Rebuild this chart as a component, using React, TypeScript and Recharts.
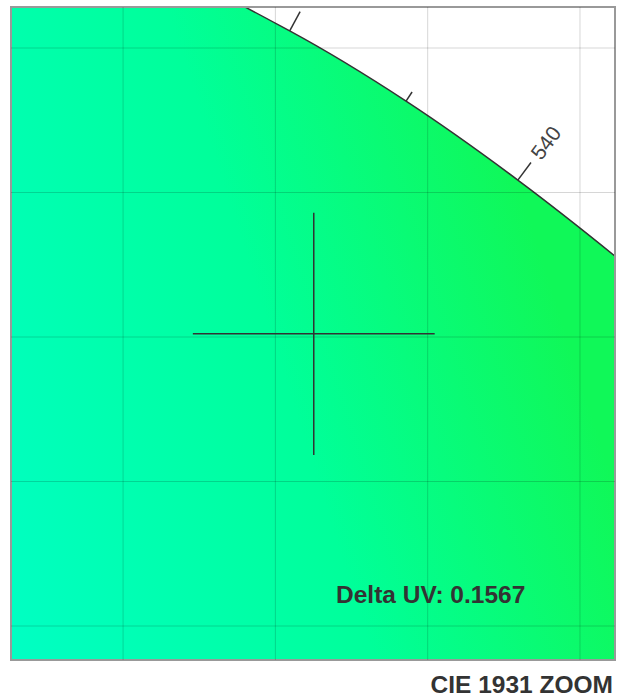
import React from 'react';
import { ComposedChart, Area, XAxis, YAxis, ReferenceLine, ReferenceArea, Scatter } from 'recharts';

// CIE 1931 2° spectral locus (x, y chromaticity) near the zoomed region
const locusNm = [515, 520, 525, 530, 535, 540, 545, 550];
const locusX = [0.0389, 0.0743, 0.1142, 0.1547, 0.1929, 0.2296, 0.2658, 0.3016];
const locusY = [0.812, 0.8338, 0.8262, 0.8059, 0.7816, 0.7543, 0.7243, 0.6923];
const tickNm = [525, 530, 535, 540, 545];
const gridX = [0.1, 0.15, 0.2, 0.25];
const gridY = [0.6, 0.65, 0.7, 0.75, 0.8];
const testPoint = { x: 0.1626, y: 0.7011 };
const crossHalf = { x: 0.0397, y: 0.0419 };
const deltaUV = 0.1567;
const title = 'CIE 1931 ZOOM';

const X0 = 0.0632, X1 = 0.2615, Y0 = 0.58824, Y1 = 0.81419;
const W = 621, H = 698;
const M = { top: 7, left: 11, right: 6, bottom: 38 };
const KX = (W - M.left - M.right) / (X1 - X0);
const KY = (H - M.top - M.bottom) / (Y1 - Y0);

const locusData = locusNm.map((nm, i) => ({ nm, x: locusX[i], y: locusY[i] }));
const tickData = tickNm.map((nm) => {
  const i = locusNm.indexOf(nm);
  return { nm, x: locusX[i], y: locusY[i], major: nm % 10 === 0 };
});

const FONT = '"Liberation Sans", Arial, Helvetica, sans-serif';

const TickMark = (props: any) => {
  const { cx, cy, payload } = props;
  if (cx == null || cy == null) return null;
  const i = locusNm.indexOf(payload.nm);
  const dxp = (locusX[i + 1] - locusX[i - 1]) * KX;
  const dyp = -(locusY[i + 1] - locusY[i - 1]) * KY;
  const len = Math.hypot(dxp, dyp);
  const tx = dxp / len, ty = dyp / len;
  const nx = ty, ny = -tx;
  const L = payload.major ? 22 : 11;
  const ang = (Math.atan2(ny, nx) * 180) / Math.PI;
  const lx = cx + nx * 29, ly = cy + ny * 29;
  return (
    <g>
      <line x1={cx} y1={cy} x2={cx + nx * L} y2={cy + ny * L} stroke="#333" strokeWidth={1.5} />
      {payload.major && (
        <text
          x={lx}
          y={ly}
          transform={`rotate(${ang} ${lx} ${ly})`}
          textAnchor="start"
          dominantBaseline="central"
          fontFamily={FONT}
          fontSize={21}
          fill="#444"
        >
          {payload.nm}
        </text>
      )}
    </g>
  );
};

export default function App() {
  return (
    <div style={{ position: 'absolute', left: 0, top: 0, width: W, height: H, background: '#fff' }}>
      <ComposedChart width={W} height={H} margin={M}>
        <defs>
          <linearGradient id="cieFill" gradientUnits="userSpaceOnUse" x1={11} y1={660} x2={610} y2={470}>
            <stop offset="0%" stopColor="#00FFC4" />
            <stop offset="55%" stopColor="#00FF9A" />
            <stop offset="100%" stopColor="#10F858" />
          </linearGradient>
        </defs>
        <XAxis type="number" dataKey="x" domain={[X0, X1]} allowDataOverflow hide />
        <YAxis type="number" dataKey="y" domain={[Y0, Y1]} allowDataOverflow hide />
        <Area
          data={locusData}
          dataKey="y"
          type="monotone"
          stroke="#333"
          strokeWidth={1.5}
          fill="url(#cieFill)"
          fillOpacity={1}
          baseValue={Y0}
          dot={false}
          activeDot={false}
          isAnimationActive={false}
        />
        {gridX.map((v) => (
          <ReferenceLine key={'gx' + v} x={v} stroke="#000" strokeOpacity={0.16} strokeWidth={1} />
        ))}
        {gridY.map((v) => (
          <ReferenceLine key={'gy' + v} y={v} stroke="#000" strokeOpacity={0.16} strokeWidth={1} />
        ))}
        <Scatter data={tickData} shape={TickMark} isAnimationActive={false} />
        <ReferenceLine
          segment={[
            { x: testPoint.x - crossHalf.x, y: testPoint.y },
            { x: testPoint.x + crossHalf.x, y: testPoint.y },
          ]}
          stroke="#333"
          strokeWidth={1.5}
          ifOverflow="visible"
        />
        <ReferenceLine
          segment={[
            { x: testPoint.x, y: testPoint.y - crossHalf.y },
            { x: testPoint.x, y: testPoint.y + crossHalf.y },
          ]}
          stroke="#333"
          strokeWidth={1.5}
          ifOverflow="visible"
        />
        <ReferenceArea
          x1={X0}
          x2={X1}
          y1={Y0}
          y2={Y1}
          fill="none"
          stroke="#999"
          strokeWidth={2}
          ifOverflow="visible"
        />
      </ComposedChart>
      <svg width={W} height={H} style={{ position: 'absolute', left: 0, top: 0, pointerEvents: 'none' }}>
        <text x={336} y={603} fontFamily={FONT} fontWeight="bold" fontSize={24.5} fill="#333">
          {`Delta UV: ${deltaUV.toFixed(4)}`}
        </text>
        <text x={613} y={693} textAnchor="end" fontFamily={FONT} fontWeight="bold" fontSize={24.5} fill="#333">
          {title}
        </text>
      </svg>
    </div>
  );
}
